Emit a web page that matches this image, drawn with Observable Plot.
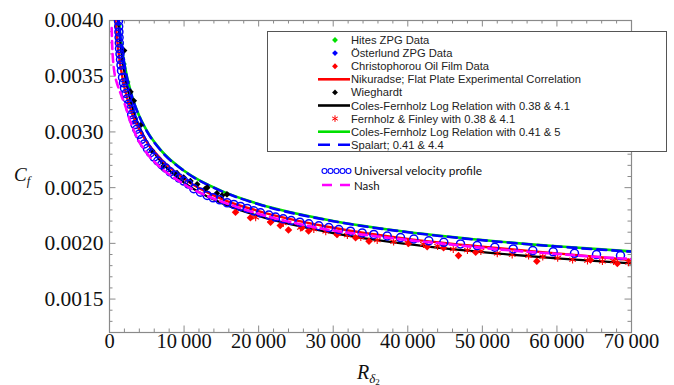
<!DOCTYPE html>
<html><head><meta charset="utf-8">
<script src="https://cdn.jsdelivr.net/npm/d3@7"></script>
<script src="https://cdn.jsdelivr.net/npm/@observablehq/plot@0.6"></script>
<style>html,body{margin:0;padding:0;background:#fff;} #chart{width:674px;height:385px;overflow:hidden;}</style>
</head><body><div id="chart"></div>
<script>
// ---- tick labels ----
const xMajor = [0, 10000, 20000, 30000, 40000, 50000, 60000, 70000];
const yMajor = [0.0015, 0.0020, 0.0025, 0.0030, 0.0035, 0.0040];

// ---- smooth correlations ----
const curveR = [1000,1100,1200,1500,2000,3000,4000,5000,7000,10000,15000,20000,30000,40000,50000,60000,70000];
const colesFernholz41 = [0.004189,0.004102,0.004025,0.003835,0.003609,0.003324,0.003142,0.003011,0.002827,0.002652,0.002471,0.002353,0.002201,0.002102,0.002030,0.001974,0.001928];
const spalart = [0.004185,0.004098,0.004021,0.003831,0.003605,0.003321,0.003139,0.003008,0.002824,0.002650,0.002469,0.002351,0.002199,0.002100,0.002028,0.001972,0.001926];
const colesFernholz38 = [0.004143,0.004051,0.003968,0.003768,0.003534,0.003236,0.003047,0.002914,0.002725,0.002546,0.002362,0.002245,0.002092,0.001993,0.001922,0.001866,0.001820];

const nikuradseR = [700,800,1000,1200,1500,2000,3000,4000,5000,7000,10000,15000,20000,30000,40000,50000,60000,70000];
const nikuradse = [0.00410,0.00400,0.00385,0.00372,0.00358,0.00340,0.00317,0.00302,0.00291,0.00275,0.00258,0.00240,0.00229,0.00214,0.00204,0.00197,0.00191,0.00185];

const nashR = [295,335,402,510,671,939,1274,1676,2079,2682,3285,3822,4559,5230,6102,7040,8180,9387,10929,12203,13276,15000,20000,25000,30000,35000,40000,45000,50000,55000,60000,65000,70000];
const nash = [0.003933,0.003825,0.003717,0.003618,0.003528,0.003451,0.003384,0.003312,0.003244,0.003114,0.003010,0.002929,0.002853,0.002790,0.002727,0.002668,0.002610,0.002556,0.002493,0.002452,0.002420,0.002375,0.002265,0.002180,0.002115,0.002070,0.002030,0.001995,0.001960,0.001930,0.001905,0.001880,0.001860];

// ---- universal velocity profile (open circles) ----
const uvpR = [1180,1207,1234,1261,1287,1314,1341,1408,1475,1542,1609,1743,1877,2011,2199,2387,2575,2776,2977,3192,3420,3648,3969,4305,4680,5082,5485,5967,6464,7000,7550,8126,8717,9333,9964,10594,11305,12203,13102,13906,14791,15784,16669,17567,18466,19351,20249,21362,22261,23293,24366,25519,26726,28067,29408,30750,32318,33887,35443,37240,39023,40807,42818,44830,47069,49308,51669,54136,56765,59500,62357,65307,68525];
const uvpCf = [0.00404,0.003996,0.003946,0.003897,0.003847,0.003798,0.003748,0.003699,0.003649,0.003600,0.003550,0.003489,0.003441,0.003393,0.003345,0.003298,0.003251,0.003204,0.003157,0.003110,0.003066,0.003024,0.002979,0.002934,0.002892,0.002851,0.002813,0.002774,0.002739,0.002706,0.002676,0.002642,0.002614,0.002586,0.002559,0.002532,0.002490,0.002459,0.002430,0.002409,0.002391,0.002364,0.002349,0.002331,0.002313,0.002292,0.002274,0.002254,0.002236,0.002220,0.002205,0.002190,0.002175,0.002158,0.002142,0.002124,0.002109,0.002094,0.002080,0.002066,0.002052,0.002039,0.002023,0.002009,0.001995,0.001980,0.001965,0.001950,0.001935,0.001924,0.001911,0.001899,0.001890];

// ---- experimental data ----
const hitesR = [1300,1600,2000,2500];
const hitesCf = [0.003954,0.003783,0.003609,0.003449];
const osterlundR = [1500,1900,2500,3300];
const osterlundCf = [0.00364,0.00344,0.00326,0.00309];
const christophorouR = [16900,18900,21600,22900,24000,25800,26700,30500,33000,34800,40100,42600,44800,46800,49100,57300,64500,68100];
const christophorouCf = [0.00228,0.00223,0.00219,0.00216,0.00212,0.00214,0.00211,0.00208,0.00205,0.00202,0.00200,0.00197,0.00196,0.00189,0.00192,0.00184,0.00185,0.00182];
const wieghardtR = [1950,2800,3250,4150,5700,7050,9050,9950,10850,11750,12850,13100,14400,15100,15750];
const wieghardtCf = [0.00373,0.00336,0.00328,0.00306,0.00283,0.00268,0.00263,0.00259,0.00256,0.00253,0.00249,0.00250,0.00245,0.00243,0.00244];
const fernholzR = [19600,21600,23300,25600,27400,29000,30600,31900,33700,35900,38100,40000,42100,44000,46100,48000,49800,52000,54000,56200,58100,60100,62100,64100,66100,67600,69600];
const fernholzCf = [0.002233,0.002210,0.002182,0.002141,0.002128,0.002108,0.002087,0.002074,0.002056,0.002029,0.002016,0.002007,0.001993,0.001975,0.001948,0.001939,0.001930,0.001910,0.001898,0.001890,0.001881,0.001869,0.001854,0.001845,0.001839,0.001841,0.001830];

const legendLabels = ["Hites ZPG Data","Österlund ZPG Data","Christophorou Oil Film Data","Nikuradse; Flat Plate Experimental Correlation","Wieghardt","Coles-Fernholz Log Relation with 0.38 & 4.1","Fernholz & Finley with 0.38 & 4.1","Coles-Fernholz Log Relation with 0.41 & 5","Spalart; 0.41 & 4.4"];
const extraLabels = ["Universal velocity profile","Nash"];

// ---- build tables ----
const zip = (xs, ys) => xs.map((r, i) => ({R: r, cf: ys[i]}));
const xMinor = d3.range(0, 70001, 2000).filter(v => v % 10000 !== 0);
const yMinor = d3.range(12, 41).map(v => +(v / 10000).toFixed(4)).filter(v => Math.round(v * 10000) % 5 !== 0);

const C = {green: "#00e000", blue: "#0000ff", red: "#ff0000", magenta: "#ff00ff", black: "#000", frame: "#8a8a8a"};
const serif = "'Liberation Serif','DejaVu Serif',serif";
const fh = 385 - 20 - 53;
const fw = 674 - 109 - 43;
const fmtX = d => d === 0 ? "0" : String(d).replace(/(\d+)(\d{3})$/, "$1\u2009$2");

const svgEl = Plot.plot({
  width: 674, height: 385,
  marginLeft: 109, marginRight: 43, marginTop: 20, marginBottom: 53,
  x: {domain: [0, 70000], axis: null},
  y: {domain: [0.0012, 0.0040], axis: null},
  style: {background: "white", overflow: "visible", fontFamily: serif},
  marks: [
    Plot.ruleX(xMinor, {x: d => d, insetTop: fh - 3.5, stroke: C.frame}),
    Plot.ruleX(xMajor, {x: d => d, insetTop: fh - 6.5, stroke: C.frame}),
    Plot.ruleX(xMinor, {x: d => d, insetBottom: fh - 3.5, stroke: C.frame}),
    Plot.ruleX(xMajor, {x: d => d, insetBottom: fh - 6.5, stroke: C.frame}),
    Plot.ruleY(yMinor, {y: d => d, insetRight: fw - 3.5, stroke: C.frame}),
    Plot.ruleY(yMajor, {y: d => d, insetRight: fw - 6.5, stroke: C.frame}),
    Plot.ruleY(yMinor, {y: d => d, insetLeft: fw - 3.5, stroke: C.frame}),
    Plot.ruleY(yMajor, {y: d => d, insetLeft: fw - 6.5, stroke: C.frame}),
    Plot.frame({stroke: C.frame, strokeWidth: 1.2}),
    Plot.text(xMajor, {x: d => d, frameAnchor: "bottom", dy: 15, text: fmtX, fontSize: 20.5, fontFamily: serif, fill: "#111"}),
    Plot.text(yMajor, {y: d => d, frameAnchor: "left", dx: -6, textAnchor: "end", text: d => d.toFixed(4), fontSize: 21.5, fontFamily: serif, fill: "#111"}),

    Plot.dot(zip(hitesR, hitesCf), {x: "R", y: "cf", symbol: "diamond2", r: 2.2, fill: C.green, stroke: "none", clip: true}),
    Plot.dot(zip(osterlundR, osterlundCf), {x: "R", y: "cf", symbol: "diamond2", r: 2.2, fill: C.blue, stroke: "none", clip: true}),
    Plot.line(zip(curveR, colesFernholz41), {x: "R", y: "cf", stroke: C.green, strokeWidth: 2.6, curve: "monotone-x", clip: true}),
    Plot.line(zip(curveR, colesFernholz38), {x: "R", y: "cf", stroke: C.black, strokeWidth: 2.2, curve: "monotone-x", clip: true}),
    Plot.line(zip(nikuradseR, nikuradse), {x: "R", y: "cf", stroke: C.red, strokeWidth: 2.4, curve: "monotone-x", clip: true}),
    Plot.line(zip(curveR, spalart), {x: "R", y: "cf", stroke: C.blue, strokeWidth: 2.6, strokeDasharray: "9,6", curve: "monotone-x", clip: true}),
    Plot.dot(zip(wieghardtR, wieghardtCf), {x: "R", y: "cf", symbol: "diamond2", r: 3, fill: C.black, stroke: "none", clip: true}),
    Plot.dot(zip(christophorouR, christophorouCf), {x: "R", y: "cf", symbol: "diamond2", r: 3.4, fill: C.red, stroke: "none", clip: true}),
    Plot.dot(zip(fernholzR, fernholzCf), {x: "R", y: "cf", symbol: "asterisk", r: 3.6, stroke: C.red, strokeWidth: 1.1, clip: true}),
    Plot.dot(zip(uvpR, uvpCf), {x: "R", y: "cf", r: 4, stroke: C.blue, strokeWidth: 1.5, fill: "none", clip: true}),
    Plot.line(zip(nashR, nash), {x: "R", y: "cf", stroke: C.magenta, strokeWidth: 2.6, strokeDasharray: "8,5", curve: "monotone-x", clip: true})
  ]
});
document.getElementById("chart").appendChild(svgEl);

// ---- axis titles & legend drawn into the same SVG ----
const svg = d3.select(svgEl);
const ct = svg.append("text").attr("text-anchor", "start").attr("x", 14).attr("y", 181).attr("font-family", serif).attr("font-style", "italic").attr("font-size", 19).attr("fill", "#111");
ct.append("tspan").text("C");
ct.append("tspan").attr("font-size", 13).attr("dy", 4).text("f");
const rt = svg.append("text").attr("text-anchor", "start").attr("x", 357).attr("y", 379).attr("font-family", serif).attr("font-style", "italic").attr("font-size", 20).attr("fill", "#111");
rt.append("tspan").text("R");
rt.append("tspan").attr("font-size", 13).attr("dy", 3.5).text("δ");
rt.append("tspan").attr("font-size", 9).attr("dy", 2).attr("font-style", "normal").text("2");

const lg = svg.append("g").attr("text-anchor", "start").attr("font-family", "'Liberation Sans',Arial,sans-serif").attr("font-size", 11.2).attr("fill", "#222");
lg.append("rect").attr("x", 267.5).attr("y", 31.5).attr("width", 399).attr("height", 120).attr("fill", "white").attr("stroke", "#555").attr("stroke-width", 1);
const kinds = [
  {t: "dot", c: C.green}, {t: "dot", c: C.blue}, {t: "dot", c: C.red}, {t: "line", c: C.red},
  {t: "dot", c: C.black}, {t: "line", c: C.black}, {t: "ast", c: C.red}, {t: "line", c: C.green},
  {t: "dash", c: C.blue}
];
legendLabels.forEach((label, i) => {
  const cy = 40 + i * 13.1;
  const k = kinds[i];
  if (k.t === "dot") lg.append("path").attr("d", d3.symbol(d3.symbolDiamond2, 22)()).attr("transform", `translate(335,${cy})`).attr("fill", k.c);
  else if (k.t === "ast") lg.append("path").attr("d", d3.symbol(d3.symbolAsterisk, 30)()).attr("transform", `translate(335,${cy})`).attr("stroke", k.c).attr("fill", "none").attr("stroke-width", 1);
  else if (k.t === "line") lg.append("line").attr("x1", 318).attr("x2", 350).attr("y1", cy).attr("y2", cy).attr("stroke", k.c).attr("stroke-width", 2.6);
  else lg.append("line").attr("x1", 318).attr("x2", 350).attr("y1", cy).attr("y2", cy).attr("stroke", k.c).attr("stroke-width", 2.6).attr("stroke-dasharray", "12,8");
  lg.append("text").attr("x", 351).attr("y", cy + 4).text(label);
});
const ex = svg.append("g").attr("text-anchor", "start");
[324.5, 330.5, 336.5, 342.5, 348.5].forEach(cx => ex.append("circle").attr("cx", cx).attr("cy", 171).attr("r", 2.5).attr("fill", "none").attr("stroke", C.blue).attr("stroke-width", 1.1));
ex.append("text").attr("x", 354).attr("y", 174.5).attr("font-family", "Lato,'Open Sans',sans-serif").attr("font-size", 11.5).attr("fill", "#111").attr("textLength", 128).attr("lengthAdjust", "spacingAndGlyphs").text(extraLabels[0]);
ex.append("line").attr("x1", 322).attr("x2", 350).attr("y1", 185).attr("y2", 185).attr("stroke", C.magenta).attr("stroke-width", 2.6).attr("stroke-dasharray", "10,8");
ex.append("text").attr("x", 354).attr("y", 189.5).attr("font-family", "Lato,'Open Sans',sans-serif").attr("font-size", 11.5).attr("fill", "#111").text(extraLabels[1]);
</script></body></html>
